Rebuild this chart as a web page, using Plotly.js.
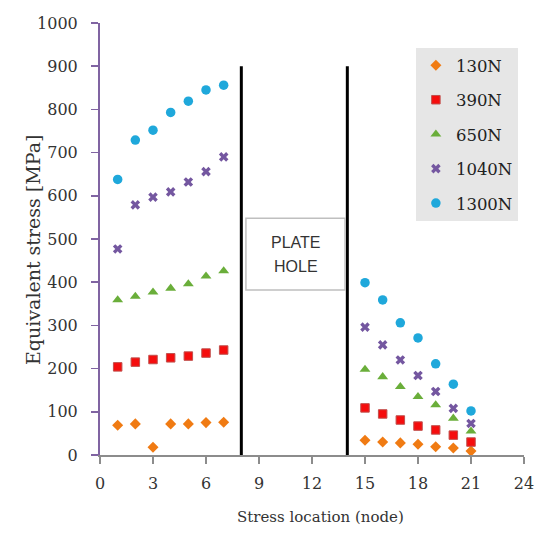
<!DOCTYPE html>
<html>
<head>
<meta charset="utf-8">
<script src="https://cdn.plot.ly/plotly-3.0.1.min.js"></script>
<style>html,body{margin:0;padding:0;background:#fff;}#chart{width:550px;height:545px;}</style>
</head>
<body>
<div id="chart"></div>
<script>
const nodesLeft = [1, 2, 3, 4, 5, 6, 7];
const nodesRight = [15, 16, 17, 18, 19, 20, 21];
const nodes = nodesLeft.concat(nodesRight);
const seriesNames = ['130N', '390N', '650N', '1040N', '1300N'];
const s130 = [69, 72, 18, 72, 72, 75, 76, 34, 30, 28, 25, 19, 16, 9];
const s390 = [204, 215, 221, 225, 229, 236, 243, 109, 95, 81, 67, 58, 46, 30];
const s650 = [359, 367, 377, 386, 396, 414, 426, 198, 181, 158, 135, 116, 85, 55];
const s1040 = [477, 579, 597, 609, 632, 656, 690, 296, 255, 220, 184, 147, 108, 73];
const s1300 = [638, 729, 752, 793, 819, 845, 856, 399, 359, 306, 271, 211, 164, 102];
const holeEdges = [8, 14];
const holeLineTop = 900;
const holeLabel = ['PLATE', 'HOLE'];
const xTitle = 'Stress location (node)';
const yTitle = 'Equivalent stress [MPa]';

const serif = 'DejaVu Serif, Liberation Serif, serif';
const values = [s130, s390, s650, s1040, s1300];
const markers = [
  {symbol: 'diamond', size: 8.5, color: '#F07B13', line: {width: 0}},
  {symbol: 'square', size: 8.5, color: '#F50D0D', line: {width: 1, color: '#C0504D'}},
  {symbol: 'triangle-up', size: 9.5, color: '#6AAE3A', line: {width: 0}},
  {symbol: 'x', size: 8.5, color: '#7457A0', line: {width: 0}},
  {symbol: 'circle', size: 9.5, color: '#1FA8DB', line: {width: 0}}
];
const traces = seriesNames.map((n, i) => ({
  x: nodes, y: values[i], name: n, type: 'scatter', mode: 'markers',
  marker: markers[i], legendgroup: 'g' + i
}));

const shapes = holeEdges.map(xv => ({
  type: 'line', xref: 'x', yref: 'y', x0: xv, x1: xv, y0: 0, y1: holeLineTop,
  line: {color: '#000', width: 3}
}));
shapes.push({type: 'rect', xref: 'x', yref: 'y', x0: 8.26, x1: 13.87, y0: 382, y1: 548,
  line: {color: '#BFBFBF', width: 1.5}, fillcolor: '#fff', layer: 'above'});

const sans = 'Liberation Sans, Arial, sans-serif';
const annotations = [
  {xref: 'x', yref: 'y', x: 11.07, y: 491, text: holeLabel[0], showarrow: false,
   font: {family: sans, size: 16, color: '#333'}},
  {xref: 'x', yref: 'y', x: 11.07, y: 437, text: holeLabel[1], showarrow: false,
   font: {family: sans, size: 16, color: '#333'}},
  {xref: 'paper', yref: 'paper', x: -0.158, y: 0.4745, text: yTitle, showarrow: false,
   textangle: -90, xanchor: 'center', yanchor: 'middle',
   font: {family: serif, size: 19, color: '#333'}},
  {xref: 'paper', yref: 'paper', x: 0.521, y: -0.1435, text: xTitle, showarrow: false,
   xanchor: 'center', yanchor: 'middle',
   font: {family: serif, size: 15, color: '#333'}}
];

const layout = {
  width: 550, height: 545,
  margin: {l: 100, r: 26, t: 23, b: 90},
  paper_bgcolor: '#fff', plot_bgcolor: '#fff',
  showlegend: true,
  legend: {
    x: 0.745, y: 0.942, xanchor: 'left', yanchor: 'top',
    bgcolor: '#E6E6E6', borderwidth: 0,
    font: {family: serif, size: 16.5, color: '#222'},
    traceorder: 'grouped', tracegroupgap: 10,
    itemwidth: 30
  },
  xaxis: {
    range: [0, 24], tickmode: 'linear', tick0: 0, dtick: 3,
    showgrid: false, zeroline: false,
    showline: true, linecolor: '#8C8C8C', linewidth: 1.5,
    ticks: 'outside', ticklen: 7, tickcolor: '#8C8C8C', tickwidth: 1.5,
    ticklabelstandoff: 6,
    tickfont: {family: serif, size: 16, color: '#333'}
  },
  yaxis: {
    range: [0, 1000], tickmode: 'linear', tick0: 0, dtick: 100,
    showgrid: false, zeroline: false,
    showline: true, linecolor: '#8064A2', linewidth: 2,
    ticks: 'outside', ticklen: 7, tickcolor: '#8064A2', tickwidth: 1.5,
    ticklabelstandoff: 10,
    tickfont: {family: serif, size: 16, color: '#333'}
  },
  shapes: shapes,
  annotations: annotations
};

Plotly.newPlot('chart', traces, layout, {displayModeBar: false, staticPlot: true});
</script>
</body>
</html>
